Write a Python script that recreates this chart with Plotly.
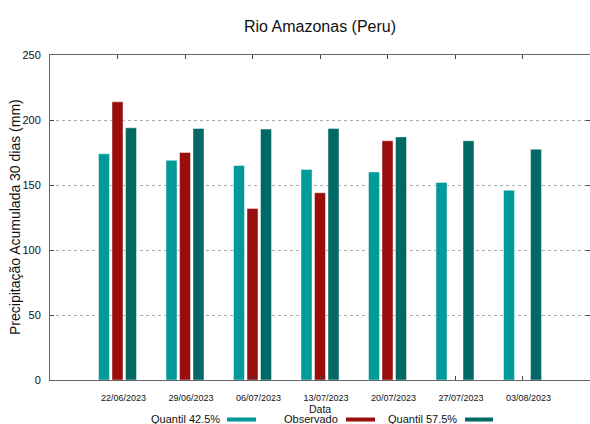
import plotly.graph_objects as go

# Weekly 30-day accumulated precipitation, Rio Amazonas (Peru)
datas = ["22/06/2023", "29/06/2023", "06/07/2023", "13/07/2023",
         "20/07/2023", "27/07/2023", "03/08/2023"]
quantil_425 = [174, 169, 165, 162, 160, 152, 146]
observado = [214, 175, 132, 144, 184, None, None]
quantil_575 = [194, 193.5, 193, 193.5, 187, 184, 177.5]
y_ticks = [0, 50, 100, 150, 200, 250]

FONT = "Liberation Sans, Arial, sans-serif"
C_Q425 = "#009a98"
C_OBS = "#990d0d"
C_Q575 = "#006865"

W, H = 590, 424
ML, MR, MT, MB = 50, 0, 55, 44
PW, PH = W - ML - MR, H - MT - MB

pos = list(range(len(datas)))
bar_w = 0.163
shift = 0.2

fig = go.Figure()
for vals, color, off in [(quantil_425, C_Q425, -shift),
                         (observado, C_OBS, 0.0),
                         (quantil_575, C_Q575, shift)]:
    fig.add_trace(go.Bar(
        x=pos, y=vals, width=bar_w, offset=off - bar_w / 2,
        marker=dict(color=color, line=dict(color="rgba(255,255,255,0.45)", width=1)),
        showlegend=False,
    ))


def px_x(px):
    return (px - ML) / PW


def px_y(py):
    return (H - MB - py) / PH


annotations = [
    dict(text="Data", x=px_x(320), y=px_y(408.5), xref="paper", yref="paper",
         xanchor="center", yanchor="middle", showarrow=False,
         font=dict(family=FONT, size=10.5, color="#111")),
    dict(text="Precipitação Acumulada 30 dias (mm)", x=px_x(15), y=px_y(217),
         xref="paper", yref="paper", xanchor="center", yanchor="middle",
         textangle=-90, showarrow=False,
         font=dict(family=FONT, size=14, color="#111")),
]
shapes = []
legend_items = [("Quantil 42.5%", C_Q425, 222, 227, 256),
                ("Observado", C_OBS, 340, 346, 375),
                ("Quantil 57.5%", C_Q575, 459, 465, 493)]
for label, color, tx, x0, x1 in legend_items:
    annotations.append(dict(
        text=label, x=px_x(tx), y=px_y(418.5), xref="paper", yref="paper",
        xanchor="right", yanchor="middle", showarrow=False,
        font=dict(family=FONT, size=11, color="#111")))
    shapes.append(dict(
        type="line", xref="paper", yref="paper",
        x0=px_x(x0), x1=px_x(x1), y0=px_y(419.5), y1=px_y(419.5),
        line=dict(color=color, width=4)))

fig.update_layout(
    width=W, height=H,
    margin=dict(l=ML, r=MR, t=MT, b=MB, pad=0),
    paper_bgcolor="white", plot_bgcolor="white",
    barmode="overlay",
    title=dict(text="Rio Amazonas (Peru)", x=320 / W, xanchor="center",
               y=1 - 26 / H, yanchor="middle",
               font=dict(family=FONT, size=16, color="#111")),
    annotations=annotations,
    shapes=shapes,
    xaxis=dict(
        range=[-1, 7], tickmode="array", tickvals=pos, ticktext=datas,
        showgrid=False, zeroline=False,
        showline=True, linecolor="#666", linewidth=1, mirror="ticks",
        ticks="inside", ticklen=4, tickcolor="#444", tickwidth=1,
        ticklabelshift=6, ticklabelstandoff=9,
        tickfont=dict(family=FONT, size=9, color="#111"),
    ),
    yaxis=dict(
        range=[0, 250], tickmode="array", tickvals=y_ticks,
        showgrid=True, gridcolor="#aaaaaa", griddash="dot", gridwidth=1,
        zeroline=False,
        showline=True, linecolor="#666", linewidth=1, mirror="ticks",
        ticks="inside", ticklen=4, tickcolor="#444", tickwidth=1,
        ticklabelstandoff=6,
        tickfont=dict(family=FONT, size=11, color="#111"),
    ),
)

fig.write_html("out.html")
